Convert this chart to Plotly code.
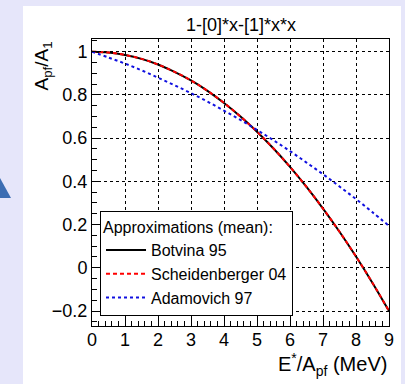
import plotly.graph_objects as go

# Data
x_vals = [0, 0.5, 1, 1.5, 2, 2.5, 3, 3.5, 4, 4.5, 5, 5.5, 6, 6.5, 7, 7.5, 8, 8.5, 9]
botvina = [1.0, 0.996, 0.985, 0.967, 0.941, 0.907, 0.867, 0.819, 0.763, 0.700, 0.630,
           0.552, 0.467, 0.374, 0.274, 0.167, 0.052, -0.070, -0.200]
scheidenberger = [1.0, 0.996, 0.985, 0.967, 0.941, 0.907, 0.867, 0.819, 0.763, 0.700, 0.630,
                  0.552, 0.467, 0.374, 0.274, 0.167, 0.052, -0.070, -0.200]
adamovich = [1.0, 0.973, 0.945, 0.914, 0.880, 0.845, 0.808, 0.769, 0.727, 0.684, 0.638,
             0.590, 0.540, 0.487, 0.433, 0.376, 0.318, 0.257, 0.194]
series_names = ["Botvina 95", "Scheidenberger 04", "Adamovich 97"]
x_ticks = [0, 1, 2, 3, 4, 5, 6, 7, 8, 9]
y_ticks = [-0.2, 0, 0.2, 0.4, 0.6, 0.8, 1]
y_tick_labels = ["\u22120.2", "0", "0.2", "0.4", "0.6", "0.8", "1"]

FONT = "Liberation Sans, Arial, sans-serif"

fig = go.Figure()
fig.add_trace(go.Scatter(x=x_vals, y=botvina, mode="lines", name=series_names[0],
                         line=dict(color="black", width=2, shape="spline")))
fig.add_trace(go.Scatter(x=x_vals, y=scheidenberger, mode="lines", name=series_names[1],
                         line=dict(color="#ff0000", width=2, dash="4px,3px", shape="spline")))
fig.add_trace(go.Scatter(x=x_vals, y=adamovich, mode="lines", name=series_names[2],
                         line=dict(color="#1010e0", width=2, dash="dot", shape="spline")))

axis_common = dict(
    showline=True, linecolor="black", linewidth=1, mirror=True,
    ticks="inside", tickcolor="black", ticklen=9, tickwidth=1,
    showgrid=True, gridcolor="black", griddash="dot", gridwidth=1,
    zeroline=False,
    tickfont=dict(family=FONT, size=18, color="black"),
)

fig.update_xaxes(range=[0, 9], tickvals=x_ticks, ticktext=[str(v) for v in x_ticks],
                 ticklabelstandoff=-3,
                 minor=dict(dtick=0.2, ticks="inside", ticklen=5, tickcolor="black", showgrid=False),
                 **axis_common)
fig.update_yaxes(range=[-0.2694, 1.0588], tickvals=y_ticks, ticktext=y_tick_labels,
                 minor=dict(dtick=0.05, ticks="inside", ticklen=5, tickcolor="black", showgrid=False),
                 **axis_common)

fig.update_layout(
    width=405, height=384,
    margin=dict(l=92, r=16, t=39, b=58),
    paper_bgcolor="#e6e6fa",
    plot_bgcolor="white",
    showlegend=True,
    legend=dict(
        x=0.027, y=0.40, xanchor="left", yanchor="top",
        bgcolor="white", bordercolor="black", borderwidth=1,
        font=dict(family=FONT, size=16, color="black"),
        title=dict(text="Approximations (mean):", font=dict(family=FONT, size=16, color="black")),
        tracegroupgap=0, itemwidth=40,
    ),
    shapes=[
        dict(type="rect", xref="paper", yref="paper", x0=-0.2323, x1=1.0404, y0=-0.21, y1=1.115,
             fillcolor="white", line=dict(width=0), layer="below"),
        dict(type="path", xref="paper", yref="paper",
             path="M -0.3098 0.5157 L -0.2727 0.446 L -0.3098 0.446 Z",
             fillcolor="#3c6db3", line=dict(width=0), layer="below"),
    ],
    annotations=[
        dict(text="1-[0]*x-[1]*x*x", xref="paper", yref="paper", x=0.5, y=1.0, yshift=14,
             xanchor="center", yanchor="middle", showarrow=False,
             font=dict(family=FONT, size=18, color="black")),
        dict(text="A<sub>pf</sub>/A<sub>1</sub>", xref="paper", yref="paper", x=-0.165, y=1.0,
             xanchor="center", yanchor="top", textangle=-90, showarrow=False,
             font=dict(family=FONT, size=19, color="black")),
        dict(text="E<sup>*</sup>/A<sub>pf</sub> (MeV)", xref="paper", yref="paper", x=1.0, y=-0.075,
             xanchor="right", yanchor="top", showarrow=False,
             font=dict(family=FONT, size=20, color="black")),
    ],
)

fig.write_html("out.html")
